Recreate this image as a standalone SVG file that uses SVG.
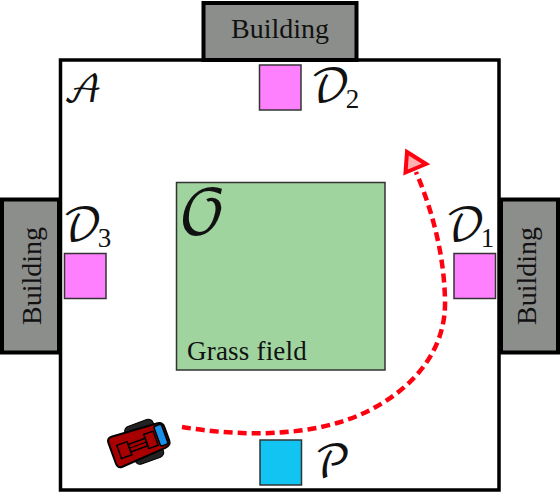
<svg xmlns="http://www.w3.org/2000/svg" width="560" height="494" viewBox="0 0 560 494">
<style>
.b{fill:#8c8e8b;stroke:#000;stroke-width:4}
.d{fill:#ff80ff;stroke:#333;stroke-width:1.5}
.t{font-family:"Liberation Serif",serif;font-size:28px;fill:#111}
.m{font-family:"DejaVu Math TeX Gyre","DejaVu Sans",serif;font-size:44px;fill:#111}
.s{font-family:"Liberation Serif",serif;font-size:27px}
.k{letter-spacing:-5px}
</style>
<rect width="560" height="494" fill="#fff"/>
<g id="area"><rect x="60.500" y="60" width="438.500" height="430" fill="#fff" stroke="#000" stroke-width="3.500"/>
<text class="m" x="63" y="102" style="font-size:37px">𝒜</text></g>
<g id="building-top"><rect class="b" x="203.500" y="3" width="153" height="57"/><text class="t" x="280" y="38" text-anchor="middle">Building</text></g>
<g id="building-left"><rect class="b" x="2" y="199.500" width="57" height="153"/><text class="t" transform="translate(41 276) rotate(-90)" text-anchor="middle">Building</text></g>
<g id="building-right"><rect class="b" x="501" y="199.500" width="57" height="153"/><text class="t" transform="translate(536 276) rotate(-90)" text-anchor="middle">Building</text></g>
<g id="D2"><rect class="d" x="259.500" y="65" width="41.500" height="45"/><text class="m" x="310" y="102"><tspan class="k">𝒟</tspan><tspan class="s" dy="6">2</tspan></text></g>
<g id="D1"><rect class="d" x="454" y="253.500" width="41.500" height="45"/><text class="m" x="445" y="241"><tspan class="k">𝒟</tspan><tspan class="s" dy="6">1</tspan></text></g>
<g id="D3"><rect class="d" x="64.500" y="253.500" width="41.500" height="45"/><text class="m" x="62" y="241"><tspan class="k">𝒟</tspan><tspan class="s" dy="6">3</tspan></text></g>
<g id="P"><rect x="260" y="440" width="41.500" height="45" fill="#12c4f2" stroke="#333" stroke-width="1.500"/><text class="m" x="314" y="478">𝒫</text></g>
<g id="O"><rect x="176.500" y="182.500" width="208.500" height="187.500" fill="#a0d49f" stroke="#333" stroke-width="1.500"/><text class="m" x="178" y="234" style="font-size:62px">𝒪</text><text class="t" x="187" y="360" style="font-size:27px;letter-spacing:.2px">Grass field</text></g>
<g id="robot" transform="translate(139.500 443.500) rotate(-20)">
<rect x="-10" y="-20" width="30" height="40" rx="5" fill="#222" stroke="#000"/>
<path d="M-24 -16L22 -13Q29 -13 29 -7L29 7Q29 13 22 13L-24 16Q-29 16 -29 11L-29 -11Q-29 -16 -24 -16Z" fill="#a80000" stroke="#000" stroke-width="2"/>
<rect x="-22" y="-6" width="11" height="14" fill="none" stroke="#000" stroke-width="1.500"/>
<rect x="-11" y="-3" width="18" height="8" fill="none" stroke="#000" stroke-width="1.500"/>
<line x1="-11" y1="1" x2="7" y2="1" stroke="#000"/>
<rect x="7" y="-7" width="10" height="15" fill="none" stroke="#000" stroke-width="1.500"/>
<rect x="19" y="-11" width="8" height="21" rx="2" fill="#1a8fe8" stroke="#000" stroke-width="1.500"/>
</g>
<g id="connectors">
<path d="M182 427C230 435 290 437 337 423C390 408 447 365 445 300C444 250 430 205 416 172" fill="none" stroke="#ff0010" stroke-width="4.500" stroke-dasharray="9 5"/>
<polygon points="407,152 426,164 405.500,172.500" fill="#ffb0b0" stroke="#ff0010" stroke-width="4"/>
</g>
</svg>
